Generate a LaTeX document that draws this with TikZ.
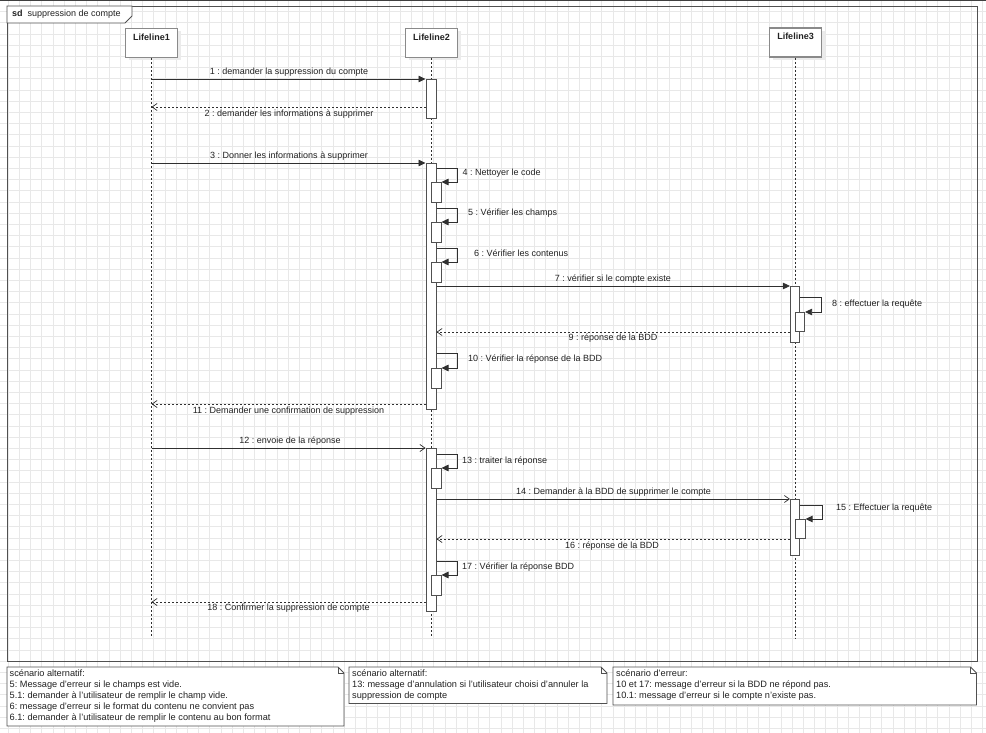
\documentclass[tikz,border=0pt]{standalone}
\usepackage{fontspec}
\setmainfont{Liberation Sans}
\usetikzlibrary{arrows.meta,shadows,calc}
\definecolor{gridc}{HTML}{E8E8E8}
\definecolor{framec}{HTML}{505050}
\definecolor{boxc}{HTML}{8A8A8A}
\definecolor{linec}{HTML}{303030}
\definecolor{txtc}{HTML}{222222}
\frenchspacing
\begin{document}
\frenchspacing
\begin{tikzpicture}[x=1pt,y=-1pt,
  font=\fontsize{9}{11}\selectfont, text=txtc,
  lifebox/.style={draw=boxc, line width=1.6pt, fill=white, minimum width=52pt, minimum height=29pt, inner sep=0pt,
    drop shadow={shadow xshift=3pt, shadow yshift=-3pt, fill=black!8, opacity=1}},
  lifetxt/.style={font=\fontsize{9}{11}\selectfont\bfseries, inner sep=0pt},
  lifeline/.style={draw=linec, line width=0.7pt, dash pattern=on 2pt off 2pt},
  act/.style={draw=framec, line width=1pt, fill=white, inner sep=0pt, minimum width=10pt, anchor=north},
  sync/.style={draw=linec, line width=0.8pt, -{Triangle[length=7pt,width=6.5pt]}},
  async/.style={draw=linec, line width=0.8pt, -{Straight Barb[length=5pt,width=7pt,line width=0.7pt]}},
  ret/.style={draw=linec, line width=0.8pt, dash pattern=on 2pt off 2pt, -{Straight Barb[length=5pt,width=7pt,line width=0.7pt,sep=0pt]}},
  lbl/.style={inner sep=0pt},
  notebox/.style={draw=framec, line width=0.9pt, fill=white},
  notetxt/.style={inner sep=0pt, align=left, anchor=north west, font=\fontsize{9.2}{10.9}\selectfont}
]
\useasboundingbox (0,0) rectangle (986,733);
\fill[white] (0,0) rectangle (986,733);
% grid
\foreach \i in {0,...,88} \draw[gridc, line width=0.9pt] ({8.3+11.2*\i},0) -- ++(0,733);
\foreach \j in {0,...,65} \draw[gridc, line width=0.9pt] (0,{0.4+11.2*\j}) -- ++(986,0);
\draw[black!75, line width=1.5pt] (0,0.75) -- (986,0.75);

% frame
\draw[framec, line width=0.9pt] (7,6) rectangle (977.5,661);
\draw[framec, line width=0.9pt, fill=white] (7,6) -- (132,6) -- (132,16) -- (125,23) -- (7,23) -- cycle;
\node[lbl, anchor=west] (tag) at (12,14.5) {\textbf{sd}\ \ suppression de compte};

% lifelines
\node[lifebox] (L1) at (151.5,43) {};
\node[lifebox] (L2) at (431.5,43) {};
\node[lifebox] (L3) at (795.5,42.5) {};
\node[lifetxt] (L1t) at ($(L1.north)+(0,9.5)$) {Lifeline1};
\node[lifetxt] (L2t) at ($(L2.north)+(0,9.5)$) {Lifeline2};
\node[lifetxt] (L3t) at ($(L3.north)+(0,9.5)$) {Lifeline3};
\coordinate (L1e) at (151.5,638);
\coordinate (L2e) at (431.5,638);
\coordinate (L3e) at (795.5,638);
\draw[lifeline] (L1.south) -- (L1e);
\draw[lifeline] (L2.south) -- (L2e);
\draw[lifeline] (L3.south) -- (L3e);

% activations
\node[act, minimum height=39pt] (A1) at (431,79) {};
\node[act, minimum height=246pt] (A2) at (431,163) {};
\node[act, minimum width=9.5pt, minimum height=56pt] (A3) at (795.2,286) {};
\node[act, minimum height=163pt] (A4) at (431,448) {};
\node[act, minimum width=9.5pt, minimum height=56pt] (A5) at (795.2,499) {};
\node[act, minimum height=20pt] (N4) at (436,182) {};
\node[act, minimum height=20pt] (N5) at (436,222) {};
\node[act, minimum height=20pt] (N6) at (436,262) {};
\node[act, minimum width=9.5pt, minimum height=19pt] (N8) at (799.8,312) {};
\node[act, minimum height=20pt] (N10) at (436,368) {};
\node[act, minimum height=20pt] (N13) at (436,468) {};
\node[act, minimum width=9.5pt, minimum height=19pt] (N15) at (800.3,519) {};
\node[act, minimum height=20pt] (N17) at (436,575) {};

% message end coordinates on Lifeline1
\coordinate (c1) at (151.5,79);
\coordinate (c2) at (151.5,107);
\coordinate (c3) at (151.5,163);
\coordinate (c11) at (151.5,404);
\coordinate (c12) at (151.5,448);
\coordinate (c18) at (151.5,602);

% messages
\draw[sync] (c1) -- (A1.north west);
\draw[ret] (A1.west |- c2) -- (c2);
\draw[sync] (c3) -- (A2.north west);
\draw[sync] ($(A2.east |- N4.north)+(0,-14)$) -| ($(N4.north east)+(16,0)$) -- (N4.north east);
\draw[sync] ($(A2.east |- N5.north)+(0,-14)$) -| ($(N5.north east)+(16,0)$) -- (N5.north east);
\draw[sync] ($(A2.east |- N6.north)+(0,-14)$) -| ($(N6.north east)+(16,0)$) -- (N6.north east);
\draw[sync] (A2.east |- A3.north) -- (A3.north west);
\draw[sync] ($(A3.east |- N8.north)+(0,-15)$) -| ($(N8.north east)+(16.5,0)$) -- (N8.north east);
\draw[ret] (A3.west |- N8.south) -- (A2.east |- N8.south);
\draw[sync] ($(A2.east |- N10.north)+(0,-15)$) -| ($(N10.north east)+(16,0)$) -- (N10.north east);
\draw[ret] (A2.west |- c11) -- (c11);
\draw[async] (c12) -- (A4.north west);
\draw[sync] ($(A4.east |- N13.north)+(0,-14)$) -| ($(N13.north east)+(16,0)$) -- (N13.north east);
\draw[async] (A4.east |- A5.north) -- (A5.north west);
\draw[sync] ($(A5.east |- N15.north)+(0,-14)$) -| ($(N15.north east)+(16.5,0)$) -- (N15.north east);
\draw[ret] (A5.west |- N15.south) -- (A4.east |- N15.south);
\draw[sync] ($(A4.east |- N17.north)+(0,-14)$) -| ($(N17.north east)+(16,0)$) -- (N17.north east);
\draw[ret] (A4.west |- c18) -- (c18);

% message labels
\node[lbl] (t1) at (289,72) {1 : demander la suppression du compte};
\node[lbl] (t2) at (289,114) {2 : demander les informations à supprimer};
\node[lbl] (t3) at (289,156) {3 : Donner les informations à supprimer};
\node[lbl, anchor=west] (t4) at (462.5,173) {4 : Nettoyer le code};
\node[lbl, anchor=west] (t5) at (468,213) {5 : Vérifier les champs};
\node[lbl, anchor=west] (t6) at (474,253) {6 : Vérifier les contenus};
\node[lbl] (t7) at (613,279) {7 : vérifier si le compte existe};
\node[lbl, anchor=west] (t8) at (832,304) {8 : effectuer la requête};
\node[lbl] (t9) at (613,338) {9 : réponse de la BDD};
\node[lbl, anchor=west] (t10) at (468,359) {10 : Vérifier la réponse de la BDD};
\node[lbl] (t11) at (288.5,411.5) {11 : Demander une confirmation de suppression};
\node[lbl] (t12) at (290,441.5) {12 : envoie de la réponse};
\node[lbl, anchor=west] (t13) at (462,461) {13 : traiter la réponse};
\node[lbl] (t14) at (613.5,492.3) {14 : Demander à la BDD de supprimer le compte};
\node[lbl, anchor=west] (t15) at (836,508) {15 : Effectuer la requête};
\node[lbl] (t16) at (612,545.7) {16 : réponse de la BDD};
\node[lbl, anchor=west] (t17) at (462,567) {17 : Vérifier la réponse BDD};
\node[lbl] (t18) at (288.5,608) {18 : Confirmer la suppression de compte};

% notes
\draw[notebox] (7,667) -- (338,667) -- (344,673) -- (344,726) -- (7,726) -- cycle;
\draw[framec, line width=0.8pt] (338,667) -- (338,673) -- (344,673);
\draw[notebox] (349,667) -- (601,667) -- (607,673) -- (607,703.5) -- (349,703.5) -- cycle;
\draw[framec, line width=0.8pt] (601,667) -- (601,673) -- (607,673);
\draw[notebox] (613,667) -- (970.5,667) -- (976.5,673) -- (976.5,705) -- (613,705) -- cycle;
\draw[framec, line width=0.8pt] (970.5,667) -- (970.5,673) -- (976.5,673);

\node[notetxt] (n1) at (9.5,670) {scénario alternatif:\\5: Message d'erreur si le champs est vide.\\5.1: demander à l'utilisateur de remplir le champ vide.\\6: message d'erreur si le format du contenu ne convient pas\\6.1: demander à l'utilisateur de remplir le contenu au bon format};
\node[notetxt] (n2) at (352,670) {scénario alternatif:\\13: message d'annulation si l'utilisateur choisi d'annuler la\\suppression de compte};
\node[notetxt] (n3) at (616,670) {scénario d'erreur:\\10 et 17: message d'erreur si la BDD ne répond pas.\\10.1: message d'erreur si le compte n'existe pas.};
\end{tikzpicture}
\end{document}
